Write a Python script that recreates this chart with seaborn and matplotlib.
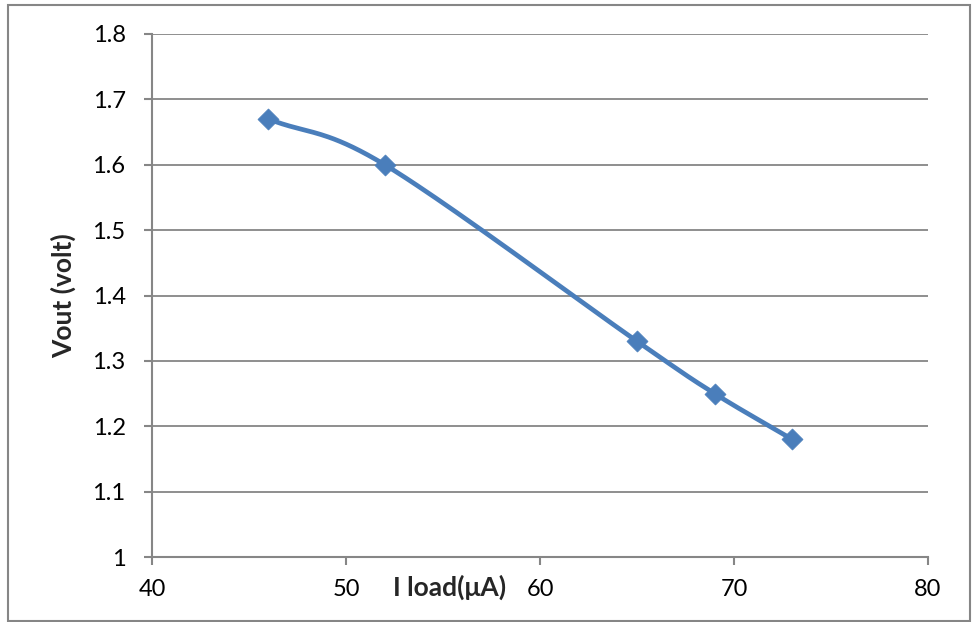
import numpy as np
import pandas as pd
import matplotlib
matplotlib.use("Agg")
import matplotlib.pyplot as plt
from matplotlib.patches import Rectangle
import seaborn as sns

# Measured load current vs output voltage
i_load = [46, 52, 65, 69, 73]
v_out = [1.67, 1.60, 1.33, 1.25, 1.18]

x_ticks = [40, 50, 60, 70, 80]
y_ticks = [1.0, 1.1, 1.2, 1.3, 1.4, 1.5, 1.6, 1.7, 1.8]
y_tick_labels = ["1", "1.1", "1.2", "1.3", "1.4", "1.5", "1.6", "1.7", "1.8"]

LINE = "#4A7EBB"
GRID = "#868686"


def smooth_curve(x, y, xr, yr, n=40):
    """Catmull-Rom spline through the points, in axis-normalised space."""
    px = (np.asarray(x, float) - xr[0]) / (xr[1] - xr[0])
    py = (np.asarray(y, float) - yr[0]) / (yr[1] - yr[0]) * (523 / 776)
    P = np.column_stack([px, py])
    P = np.vstack([P[0] - (P[1] - P[0]), P, P[-1] + (P[-1] - P[-2])])
    out = []
    for i in range(1, len(P) - 2):
        p0, p1, p2, p3 = P[i - 1], P[i], P[i + 1], P[i + 2]
        t = np.linspace(0, 1, n, endpoint=(i == len(P) - 3))[:, None]
        seg = 0.5 * ((2 * p1) + (-p0 + p2) * t + (2 * p0 - 5 * p1 + 4 * p2 - p3) * t ** 2
                     + (-p0 + 3 * p1 - 3 * p2 + p3) * t ** 3)
        out.append(seg)
    S = np.vstack(out)
    sx = S[:, 0] * (xr[1] - xr[0]) + xr[0]
    sy = S[:, 1] / (523 / 776) * (yr[1] - yr[0]) + yr[0]
    return sx, sy


sns.set_theme(style="white")
plt.rcParams["font.family"] = ["Lato", "DejaVu Sans"]

fig = plt.figure(figsize=(9.72, 6.22), dpi=100)
ax = fig.add_axes([152 / 972, 65 / 622, 776 / 972, 523 / 622])

xr, yr = (40, 80), (1.0, 1.8)
sx, sy = smooth_curve(i_load, v_out, xr, yr)
curve = pd.DataFrame({"I": sx, "V": sy})
pts = pd.DataFrame({"I": i_load, "V": v_out})

sns.lineplot(data=curve, x="I", y="V", ax=ax, color=LINE, linewidth=3.4,
             sort=False, estimator=None, zorder=3)
sns.scatterplot(data=pts, x="I", y="V", ax=ax, color=LINE, marker="D", s=115,
                edgecolor=LINE, linewidth=0.5, zorder=4)

ax.set_xlim(*xr)
ax.set_ylim(*yr)
ax.set_xticks(x_ticks)
ax.set_xticklabels([str(v) for v in x_ticks])
ax.set_yticks(y_ticks)
ax.set_yticklabels(y_tick_labels)

ax.grid(axis="y", color=GRID, linewidth=1.3)
ax.grid(axis="x", visible=False)
ax.set_axisbelow(True)
for side in ("top", "right"):
    ax.spines[side].set_visible(False)
for side in ("left", "bottom"):
    ax.spines[side].set_color(GRID)
    ax.spines[side].set_linewidth(1.5)

ax.tick_params(axis="both", which="major", direction="out", length=6, width=1.5,
               color=GRID, labelsize=17, labelcolor="black")
ax.tick_params(axis="x", pad=10)
ax.tick_params(axis="y", pad=13)
ax.tick_params(bottom=True, left=True)

ax.set_xlabel("")
ax.set_ylabel("Vout (volt)", fontsize=19, fontweight="bold", labelpad=12)
ax.text((450 - 152) / 776, -30 / 523, "I load(μA)", transform=ax.transAxes,
        ha="center", va="center", fontsize=19, fontweight="bold")

fig.add_artist(Rectangle((7.5 / 972, 1.5 / 622), 962 / 972, 615.5 / 622,
                         transform=fig.transFigure, fill=False,
                         edgecolor=GRID, linewidth=1.5))

fig.savefig("out.png", dpi=100)
